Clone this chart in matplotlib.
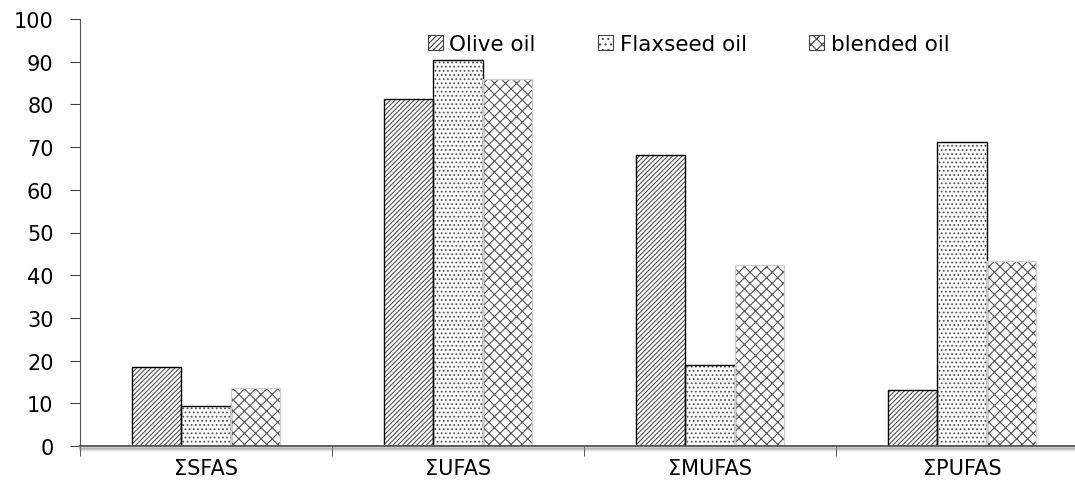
import numpy as np
import matplotlib.pyplot as plt
from matplotlib.patches import Patch

categories = ['ΣSFAS', 'ΣUFAS', 'ΣMUFAS', 'ΣPUFAS']
olive = [18.5, 81.2, 68.2, 13.1]
flaxseed = [9.4, 90.3, 19.0, 71.1]
blended = [13.6, 86.0, 42.5, 43.3]
series_names = ['Olive oil', 'Flaxseed oil', 'blended oil']
yticks = list(range(0, 101, 10))

plt.rcParams['font.family'] = ['DejaVu Sans']
plt.rcParams['hatch.linewidth'] = 0.8

fig = plt.figure(figsize=(10.75, 4.81), dpi=100)
ax = fig.add_axes([80 / 1075, 34 / 481, 995 / 1075, 427 / 481])

x = np.arange(len(categories))
w = 0.195

# hatch layers (gray), then outlines
ax.bar(x - w, olive, w, color='white', edgecolor='#555555', hatch='///////', linewidth=0)
ax.bar(x, flaxseed, w, color='white', edgecolor='#555555', hatch='....', linewidth=0)
ax.bar(x + w, blended, w, color='white', edgecolor='#555555', hatch='xxx', linewidth=0)
ax.bar(x - w, olive, w, fill=False, edgecolor='black', linewidth=1.0)
ax.bar(x, flaxseed, w, fill=False, edgecolor='black', linewidth=1.0)
ax.bar(x + w, blended, w, fill=False, edgecolor='#d0d0d0', linewidth=1.0)

ax.set_yticks(yticks)
ax.set_xticks(x)
ax.set_xticklabels(categories)
ax.set_xticks(np.arange(-0.5, 3, 1), minor=True)
ax.set_ylim(0, 100)
ax.set_xlim(-0.5, -0.5 + 995 / 252)
ax.tick_params(axis='x', which='major', length=0, pad=9, labelsize=15)
ax.tick_params(axis='x', which='minor', length=7, direction='out', color='#444444')
ax.tick_params(axis='y', length=7, direction='out', labelsize=15, color='#444444', pad=12)

for s in ['top', 'right']:
    ax.spines[s].set_visible(False)
ax.spines['left'].set_color('#555555')
ax.spines['bottom'].set_color('#555555')
ax.spines['bottom'].set_linewidth(1.3)

# soft shadow under the x axis
for off, a in [(-1.5, 0.4), (-2.5, 0.28), (-3.5, 0.16), (-4.5, 0.08)]:
    ax.axhline(off * 100 / 427, color='gray', alpha=a, lw=1.5, clip_on=False)

handles = [
    Patch(facecolor='white', edgecolor='#444444', hatch='//////', lw=0.8),
    Patch(facecolor='white', edgecolor='#444444', hatch='...', lw=0.8),
    Patch(facecolor='white', edgecolor='#444444', hatch='xxx', lw=0.8),
]
ax.legend(handles, series_names, loc='upper left', bbox_to_anchor=(0.330, 1.01),
          ncol=3, frameon=False, fontsize=15.5, handlelength=0.7, handleheight=0.7,
          handletextpad=0.3, columnspacing=2.9)

fig.savefig('out.png', dpi=100)
